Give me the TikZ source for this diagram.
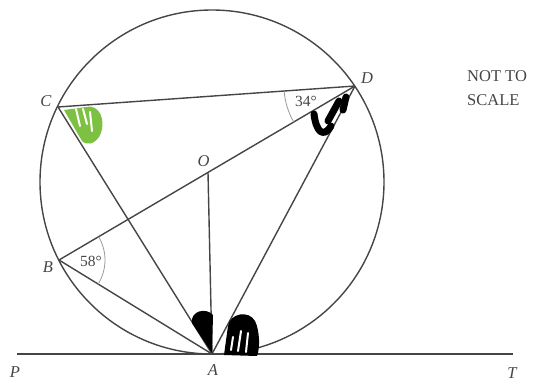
\documentclass[tikz,border=0pt]{standalone}
\usepackage{fontspec}
\setmainfont{Liberation Serif}
\usetikzlibrary{angles}
\definecolor{geogray}{HTML}{454545}
\definecolor{scribgreen}{HTML}{7DC142}
\begin{document}
\begin{tikzpicture}[x=1pt,y=-1pt,
  geo/.style={draw=geogray, line width=1.4pt},
  arcline/.style={draw=black!40, line width=0.8pt},
  lbl/.style={font=\fontsize{16.5}{19}\selectfont\itshape, text=geogray, inner sep=0pt},
  deg/.style={font=\fontsize{15.5}{18}\selectfont, text=geogray, inner sep=0pt},
  note/.style={font=\fontsize{16.5}{23.5}\selectfont, text=geogray, inner sep=0pt, align=left},
  scrib/.style={draw=black, line width=7pt, line cap=round, line join=round},
  gap/.style={draw=white, line width=2pt, line cap=round}]
\useasboundingbox (0,0) rectangle (536,383);
% points
\coordinate (Ctr) at (212,182);
\coordinate (A) at (212,354);
\coordinate (B) at (59,260);
\coordinate (C) at (58,107);
\coordinate (D) at (355,86);
\coordinate (O) at (208,172.4);
\coordinate (P) at (17,354);
\coordinate (T) at (513,354);
% circle and lines
\draw[geo] (Ctr) circle[radius=172pt];
\draw[geo] (P) -- (T);
\draw[geo] (A) -- (B);
\draw[geo] (A) -- (C);
\draw[geo] (A) -- (O);
\draw[geo] (A) -- (D);
\draw[geo] (B) -- (D);
\draw[geo] (C) -- (D);
% angle arcs
\pic[arcline, angle radius=71pt] {angle = C--D--B};
\pic[arcline, angle radius=46pt] {angle = A--B--D};
% green mark at C
\fill[scribgreen] (64,110) -- (90,106.5) .. controls (104,108) and (105,128) .. (99,137)
  .. controls (94,144) and (87,146) .. (82,141) -- cycle;
\draw[gap] (76,109) -- (80,126);
\draw[gap] (83,109) -- (87,124);
\draw[gap] (90,112) -- (92,131);
% black mark at D
\draw[scrib] (314,114) .. controls (316,131) and (323,139) .. (331,126);
\draw[scrib] (328,121) -- (339,101);
\draw[scrib] (346,97) -- (343,110);
% black marks at A
\fill[black] (212,353) -- (192,323) .. controls (190,311) and (206,307) .. (213,315) -- cycle;
\fill[black] (224,355) -- (228,326) .. controls (230,313) and (249,310) .. (255,321)
  .. controls (260,331) and (260,349) .. (257,356) -- cycle;
\draw[gap] (233,337) -- (231,350);
\draw[gap] (241,331) -- (238,351);
\draw[gap] (248,333) -- (246,352);
% labels
\node[lbl] (lC) at (46,101) {C};
\node[lbl] (lD) at (367,78) {D};
\node[lbl] (lO) at (203.5,161) {O};
\node[lbl] (lB) at (48,267) {B};
\node[lbl] (lA) at (213,370) {A};
\node[lbl] (lP) at (15,372) {P};
\node[lbl] (lT) at (512,373) {T};
\node[deg] (d34) at (306,101) {34°};
\node[deg] (d58) at (91,261) {58°};
\node[note, anchor=west] (nts) at (467,88) {NOT TO\\SCALE};
\end{tikzpicture}
\end{document}
